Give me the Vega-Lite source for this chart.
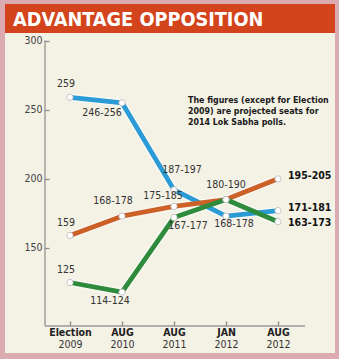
{
  "$schema": "https://vega.github.io/schema/vega-lite/v6.json",
  "background": "#dcaab1",
  "padding": {"left": 5, "top": 4, "right": 4, "bottom": 6},
  "spacing": 0,
  "config": {
    "view": {"stroke": null},
    "font": "DejaVu Sans Condensed, sans-serif",
    "concat": {"spacing": 0}
  },
  "vconcat": [
    {
      "width": 330,
      "height": 29,
      "view": {"fill": "#d3441c", "stroke": null},
      "data": {"values": [{"title": "ADVANTAGE OPPOSITION"}]},
      "mark": {"type": "text", "fontWeight": "bold", "fontSize": 19.7, "color": "#ffffff", "align": "left", "baseline": "alphabetic", "dx": -157, "dy": 7.5},
      "encoding": {"text": {"field": "title"}}
    },
    {
      "width": 330,
      "height": 320,
      "view": {"fill": "#f4f1e5", "stroke": null},
      "data": {"values": [
        {"period": "Election 2009", "alliance": "UPA", "seats": 259, "label": "259"},
        {"period": "AUG 2010", "alliance": "UPA", "seats": 255, "label": "246-256"},
        {"period": "AUG 2011", "alliance": "UPA", "seats": 192, "label": "187-197"},
        {"period": "JAN 2012", "alliance": "UPA", "seats": 173, "label": "168-178"},
        {"period": "AUG 2012", "alliance": "UPA", "seats": 177, "label": "171-181"},
        {"period": "Election 2009", "alliance": "NDA", "seats": 159, "label": "159"},
        {"period": "AUG 2010", "alliance": "NDA", "seats": 173, "label": "168-178"},
        {"period": "AUG 2011", "alliance": "NDA", "seats": 180, "label": "175-185"},
        {"period": "JAN 2012", "alliance": "NDA", "seats": 185, "label": "180-190"},
        {"period": "AUG 2012", "alliance": "NDA", "seats": 200, "label": "195-205"},
        {"period": "Election 2009", "alliance": "Others", "seats": 125, "label": "125"},
        {"period": "AUG 2010", "alliance": "Others", "seats": 118, "label": "114-124"},
        {"period": "AUG 2011", "alliance": "Others", "seats": 172, "label": "167-177"},
        {"period": "JAN 2012", "alliance": "Others", "seats": 185, "label": "180-190"},
        {"period": "AUG 2012", "alliance": "Others", "seats": 169, "label": "163-173"}
      ]},
      "resolve": {"axis": {"x": "independent", "y": "independent"}},
      "encoding": {
        "x": {"field": "period", "type": "ordinal", "axis": null,
              "scale": {"type": "point", "domain": ["Election 2009", "AUG 2010", "AUG 2011", "JAN 2012", "AUG 2012"], "range": [65, 273], "padding": 0, "round": false}},
        "y": {"field": "seats", "type": "quantitative", "axis": null,
              "scale": {"domain": [74, 305.5], "nice": false, "zero": false}}
      },
      "layer": [
        {
          "transform": [{"filter": "datum.alliance === 'UPA' && datum.period === 'Election 2009'"}],
          "mark": {"type": "rule", "color": "#9a9a9a", "strokeWidth": 1.4, "xOffset": -25},
          "encoding": {
            "x": {"datum": "Election 2009", "type": "ordinal", "axis": null},
            "y": {"datum": 93.5, "type": "quantitative", "axis": null},
            "y2": {"datum": 300}
          }
        },
        {
          "transform": [{"filter": "datum.alliance === 'UPA' && datum.period === 'Election 2009'"}],
          "mark": {"type": "rule", "color": "#9a9a9a", "strokeWidth": 1.4, "xOffset": -25, "x2Offset": 27},
          "encoding": {
            "x": {"datum": "Election 2009", "type": "ordinal", "axis": null},
            "x2": {"datum": "AUG 2012"},
            "y": {"datum": 93.5, "type": "quantitative", "axis": null}
          }
        },
        {
          "mark": {"type": "line", "color": "#ffffff", "strokeWidth": 7.5, "opacity": 0.6, "strokeCap": "round", "strokeJoin": "round"},
          "encoding": {"detail": {"field": "alliance"}}
        },
        {
          "mark": {"type": "line", "strokeWidth": 4.8, "strokeCap": "round", "strokeJoin": "round"},
          "encoding": {
            "x": {"field": "period", "type": "ordinal",
                  "scale": {"type": "point", "domain": ["Election 2009", "AUG 2010", "AUG 2011", "JAN 2012", "AUG 2012"], "range": [65, 273], "padding": 0, "round": false},
                  "axis": {"orient": "bottom", "offset": -27, "title": null, "domain": false, "grid": false, "ticks": true, "tickSize": -5, "tickColor": "#8a8a8a", "tickWidth": 1.3, "labelPadding": 6, "labelFontSize": 10.5, "labelFontWeight": "bold", "labelColor": "#222222", "labelAngle": 0, "labelExpr": "split(datum.label, ' ')[0]"}},
            "y": {"field": "seats", "type": "quantitative",
                  "scale": {"domain": [74, 305.5], "nice": false, "zero": false},
                  "axis": {"orient": "left", "values": [150, 200, 250, 300], "title": null, "domain": false, "grid": false, "offset": -39, "ticks": true, "tickSize": -5, "tickColor": "#8a8a8a", "tickWidth": 1.3, "labelPadding": 7, "labelFontSize": 10.5, "labelColor": "#444444"}},
            "color": {"field": "alliance", "type": "nominal", "legend": null,
                      "scale": {"domain": ["UPA", "NDA", "Others"], "range": ["#2b9bd6", "#cc6128", "#2e8b3c"]}}
          }
        },
        {
          "mark": {"type": "point", "filled": true, "fill": "#ffffff", "stroke": "#b5b5b5", "strokeWidth": 0.8, "size": 40, "opacity": 1},
          "encoding": {
            "x": {"field": "period", "type": "ordinal",
                  "scale": {"type": "point", "domain": ["Election 2009", "AUG 2010", "AUG 2011", "JAN 2012", "AUG 2012"], "range": [65, 273], "padding": 0, "round": false},
                  "axis": {"orient": "bottom", "offset": -27, "title": null, "domain": false, "grid": false, "ticks": false, "labelPadding": 13, "labelFontSize": 10.5, "labelColor": "#333333", "labelAngle": 0, "labelExpr": "split(datum.label, ' ')[1]"}}
          }
        },
        {
          "transform": [{"filter": "datum.period === 'Election 2009'"}],
          "mark": {"type": "text", "fontSize": 10.5, "color": "#333333", "dx": -4, "dy": -13},
          "encoding": {"text": {"field": "label"}}
        },
        {
          "transform": [{"filter": "datum.period === 'AUG 2010' && datum.alliance === 'UPA'"}],
          "mark": {"type": "text", "fontSize": 10.5, "color": "#333333", "dx": -20, "dy": 10},
          "encoding": {"text": {"field": "label"}}
        },
        {
          "transform": [{"filter": "datum.period === 'AUG 2010' && datum.alliance === 'Others'"}],
          "mark": {"type": "text", "fontSize": 10.5, "color": "#333333", "dx": -12, "dy": 9},
          "encoding": {"text": {"field": "label"}}
        },
        {
          "transform": [{"filter": "datum.period === 'AUG 2010' && datum.alliance === 'NDA'"}],
          "mark": {"type": "text", "fontSize": 10.5, "color": "#333333", "dx": -9, "dy": -15},
          "encoding": {"text": {"field": "label"}}
        },
        {
          "transform": [{"filter": "datum.period === 'AUG 2011' && datum.alliance === 'NDA'"}],
          "mark": {"type": "text", "fontSize": 10.5, "color": "#333333", "dx": -11, "dy": -10},
          "encoding": {"text": {"field": "label"}}
        },
        {
          "transform": [{"filter": "datum.period === 'AUG 2011' && datum.alliance === 'UPA'"}],
          "mark": {"type": "text", "fontSize": 10.5, "color": "#333333", "dx": 8, "dy": -20},
          "encoding": {"text": {"field": "label"}}
        },
        {
          "transform": [{"filter": "datum.period === 'AUG 2011' && datum.alliance === 'Others'"}],
          "mark": {"type": "text", "fontSize": 10.5, "color": "#333333", "dx": 14, "dy": 8},
          "encoding": {"text": {"field": "label"}}
        },
        {
          "transform": [{"filter": "datum.period === 'JAN 2012' && datum.alliance === 'UPA'"}],
          "mark": {"type": "text", "fontSize": 10.5, "color": "#333333", "dx": 8, "dy": 8},
          "encoding": {"text": {"field": "label"}}
        },
        {
          "transform": [{"filter": "datum.period === 'JAN 2012' && datum.alliance === 'NDA'"}],
          "mark": {"type": "text", "fontSize": 10.5, "color": "#333333", "dx": 0, "dy": -15},
          "encoding": {"text": {"field": "label"}}
        },
        {
          "transform": [{"filter": "datum.period === 'AUG 2012' && datum.alliance === 'UPA'"}],
          "mark": {"type": "text", "fontSize": 10.5, "fontWeight": "bold", "color": "#111111", "align": "left", "dx": 10, "dy": -2.5},
          "encoding": {"text": {"field": "label"}}
        },
        {
          "transform": [{"filter": "datum.period === 'AUG 2012' && datum.alliance === 'NDA'"}],
          "mark": {"type": "text", "fontSize": 10.5, "fontWeight": "bold", "color": "#111111", "align": "left", "dx": 10, "dy": -3},
          "encoding": {"text": {"field": "label"}}
        },
        {
          "transform": [{"filter": "datum.period === 'AUG 2012' && datum.alliance === 'Others'"}],
          "mark": {"type": "text", "fontSize": 10.5, "fontWeight": "bold", "color": "#111111", "align": "left", "dx": 10, "dy": 1},
          "encoding": {"text": {"field": "label"}}
        },
        {
          "transform": [{"filter": "datum.alliance === 'UPA' && datum.period === 'Election 2009'"}],
          "mark": {"type": "text", "fontSize": 8.8, "fontWeight": "bold", "color": "#1a1a1a", "align": "left", "baseline": "top", "lineHeight": 11, "dx": 14,
                   "text": ["The figures (except for Election", "2009) are projected seats for", "2014 Lok Sabha polls."]},
          "encoding": {
            "x": {"datum": "AUG 2011", "type": "ordinal", "axis": null},
            "y": {"datum": 259.6, "type": "quantitative", "axis": null}
          }
        }
      ]
    }
  ]
}
